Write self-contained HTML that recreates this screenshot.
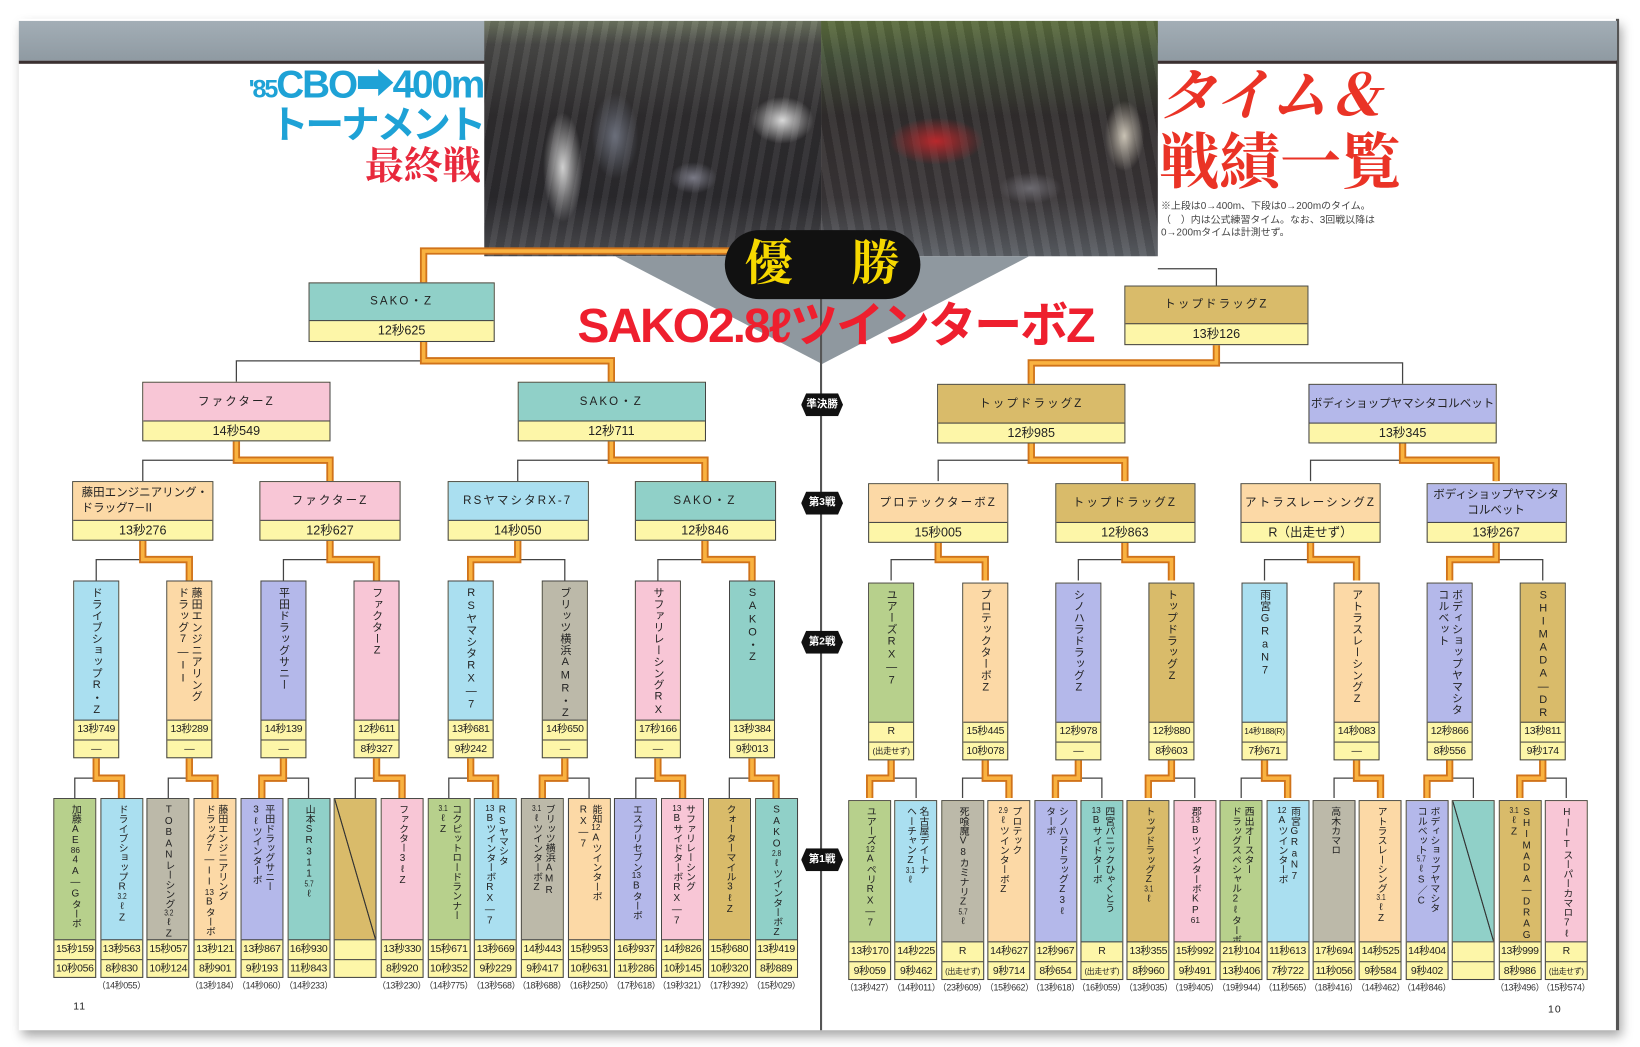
<!DOCTYPE html>
<html><head><meta charset="utf-8">
<style>
html,body{margin:0;padding:0;background:#fff;overflow:hidden;width:1640px;height:1047px}
#s{position:relative;width:1568px;height:1001px;transform:scale(1.04592);transform-origin:0 0;font-family:"Liberation Sans","Noto Sans CJK JP",sans-serif;color:#222}
.pg{position:absolute;left:18px;top:18px;width:1530px;height:967px;background:#fff;box-shadow:3px 6px 10px rgba(0,0,0,.35);border-right:3px solid #555;box-sizing:border-box}
.bar{position:absolute;left:18px;top:20px;width:1528px;height:38px;background:linear-gradient(#a3aeb6,#8f9aa2);border-bottom:3px solid #3a3030}
.photo{position:absolute;left:463px;top:20px;width:322px;height:225px;background:
radial-gradient(ellipse 25px 70px at 75px 140px,#cfcfcf 0,transparent 75%),
radial-gradient(ellipse 30px 55px at 125px 110px,#6a6e7a 0,transparent 75%),
radial-gradient(ellipse 40px 30px at 285px 95px,#d8d8d8 0,transparent 75%),
radial-gradient(ellipse 30px 20px at 200px 150px,#7a7a86 0,transparent 75%),
repeating-linear-gradient(100deg,rgba(255,255,255,.05) 0 6px,rgba(0,0,0,.08) 6px 14px),
linear-gradient(#6f7762 0,#4a4a48 10%,#302e30 40%,#2b2a2e 75%,#4e4e52 100%)}
.ph2{position:absolute;left:785px;top:20px;width:322px;height:225px;background:
radial-gradient(ellipse 60px 30px at 110px 115px,#b8282c 0,transparent 75%),
radial-gradient(ellipse 25px 45px at 290px 110px,#c9c2b4 0,transparent 75%),
radial-gradient(ellipse 40px 20px at 200px 160px,#6c6a70 0,transparent 75%),
repeating-linear-gradient(80deg,rgba(255,255,255,.05) 0 7px,rgba(0,0,0,.08) 7px 15px),
linear-gradient(#5d6e3e 0,#45523a 15%,#322e2e 40%,#3a3638 75%,#5c6066 100%)}
.spine{position:absolute;left:784px;top:245px;width:2px;height:740px;background:#555}
.abs{position:absolute}
.box{position:absolute;border:1px solid #444;box-sizing:border-box;background:#fdf6a8}
.box .n{display:flex;align-items:center;justify-content:center;border-bottom:1px solid #444;font-size:11px;letter-spacing:2px;text-align:center;line-height:15px}
.box .t{text-align:center;font-size:12px;line-height:19px}
.v{position:absolute;border:1px solid #444;box-sizing:border-box;background:#fdf6a8}
.v .n{display:flex;justify-content:center;border-bottom:1px solid #444;box-sizing:border-box;padding-top:5px;overflow:hidden}
.v .n div{writing-mode:vertical-rl;text-orientation:upright;font-size:9.5px;line-height:12px;letter-spacing:-0.3px;white-space:nowrap}
.v .t{text-align:center;font-size:10px;line-height:18px;height:18px;letter-spacing:-.3px;white-space:nowrap;overflow:hidden}
.v .t+.t{border-top:1px solid #444}
.m .n div{font-size:10.5px;line-height:13px;letter-spacing:0.5px}
.nt{position:absolute;top:936px;font-size:8.5px;color:#333;width:60px;text-align:center;letter-spacing:-.3px}
.c{text-combine-upright:all;font-size:8px}
.g{background:#b7d08c}.cy{background:#aadff0}.gr{background:#bcb9a9}.pe{background:#fcd9a6}.pu{background:#b4b8ea}.te{background:#90d0c8}.go{background:#d9bb6a}.pk{background:#f8c6d6}
.rl{position:absolute;left:766px;width:40px;height:22px;background:#111;color:#fff;font-size:10px;font-weight:bold;text-align:center;line-height:22px;clip-path:polygon(12% 0,88% 0,100% 50%,88% 100%,12% 100%,0 50%)}
svg{position:absolute;left:0;top:0}
</style></head><body><div id="s">
<div class="pg"></div>
<div class="bar"></div>
<div class="photo"></div>
<div class="ph2"></div>
<svg width="1568" height="1001"><polygon points="588,245 984,245 786,348" fill="#8f989f"/></svg>
<div class="spine"></div>

<div class="abs" style="left:230px;top:62px;width:232px;text-align:right;color:#1ea2d6;font-weight:bold;font-size:37px;line-height:38px;white-space:nowrap;letter-spacing:-2px"><span style="font-size:24px">'85</span>CBO➡400m</div>
<div class="abs" style="left:230px;top:100px;width:232px;text-align:right;color:#1ea2d6;font-weight:bold;font-size:37px;line-height:40px;white-space:nowrap;letter-spacing:-3px">トーナメント</div>
<div class="abs" style="left:300px;top:140px;width:160px;text-align:right;color:#e8293c;font-size:37px;line-height:40px;font-family:'Liberation Serif','Noto Serif CJK SC',serif;font-weight:bold">最終戦</div>

<div class="abs" style="left:1108px;top:62px;color:#ea3326;font-size:54px;line-height:60px;font-family:'Liberation Serif','Noto Serif CJK SC',serif;font-weight:bold;font-style:italic;white-space:nowrap">タイム＆</div>
<div class="abs" style="left:1108px;top:124px;color:#ea3326;font-size:58px;line-height:64px;font-family:'Liberation Serif','Noto Serif CJK SC',serif;font-weight:bold;white-space:nowrap">戦績一覧</div>
<div class="abs" style="left:1110px;top:192px;color:#444;font-size:9.5px;line-height:12.5px;white-space:nowrap">※上段は0→400m、下段は0→200mのタイム。<br>（　）内は公式練習タイム。なお、3回戦以降は<br>0→200mタイムは計測せず。</div>

<svg width="1568" height="1001">
<g fill="none" stroke="#444" stroke-width="1.2">
<path d="M71.5 763V744H116.2V763M92 725V744M160.9 763V744H205.6V763M181 725V744M250.3 763V744H295V763M271 725V744M339.7 763V744H384.4V763M360 725V744M429.1 763V744H473.8V763M450 725V744M518.5 763V744H563.2V763M540 725V744M607.9 763V744H652.6V763M629 725V744M697.3 763V744H742V763M719 725V744"/>
<path d="M831.5 763V744H875.9V763M852 725V744M920.3 763V744H964.7V763M942 725V744M1009.1 763V744H1053.5V763M1031 725V744M1097.9 763V744H1142.3V763M1120 725V744M1186.7 763V744H1231.1V763M1209 725V744M1275.5 763V744H1319.9V763M1297 725V744M1364.3 763V744H1408.7V763M1386 725V744M1453.1 763V744H1497.5V763M1475 725V744"/>
<path d="M92 555V535H181V555M271 555V535H360V555M450 555V535H540V555M629 555V535H719V555M852 555V535H942V555M1031 555V535H1120V555M1209 555V535H1297V555M1386 555V535H1475V555"/>
<path d="M136.5 460V440H315.5V460M495 460V440H674V460M897 460V440H1075.5V460M1253 460V440H1430.5V460"/>
<path d="M226 365V345H584.5V365M986 367V347H1341V367M1163 273V257H1107"/>
</g>
<g fill="none">
<path stroke="#d0731a" stroke-width="7" d="M92 725V744H116.2V763M181 725V744H205.6V763M271 725V744H250.3V763M360 725V744H384.4V763M450 725V744H473.8V763M540 725V744H518.5V763M629 725V744H652.6V763M719 725V744H742V763M852 725V744H831.5V763M942 725V744H964.7V763M1031 725V744H1009.1V763M1120 725V744H1097.9V763M1209 725V744H1231.1V763M1297 725V744H1319.9V763M1386 725V744H1364.3V763M1475 725V744H1453.1V763M136.5 517V535H181V555M315.5 517V535H360V555M495 517V535H450V555M674 517V535H719V555M897 517V535H942V555M1075.5 517V535H1120V555M1253 517V535H1297V555M1430.5 517V535H1386V555M226 422V440H315.5V460M584.5 422V440H674V460M986 422V440H1075.5V460M1341 422V440H1430.5V460M405 327V345H584.5V365M986 367V347H1163V330M405 270V240H700"/>
<path stroke="#f9b240" stroke-width="3.5" d="M92 725V744H116.2V763M181 725V744H205.6V763M271 725V744H250.3V763M360 725V744H384.4V763M450 725V744H473.8V763M540 725V744H518.5V763M629 725V744H652.6V763M719 725V744H742V763M852 725V744H831.5V763M942 725V744H964.7V763M1031 725V744H1009.1V763M1120 725V744H1097.9V763M1209 725V744H1231.1V763M1297 725V744H1319.9V763M1386 725V744H1364.3V763M1475 725V744H1453.1V763M136.5 517V535H181V555M315.5 517V535H360V555M495 517V535H450V555M674 517V535H719V555M897 517V535H942V555M1075.5 517V535H1120V555M1253 517V535H1297V555M1430.5 517V535H1386V555M226 422V440H315.5V460M584.5 422V440H674V460M986 422V440H1075.5V460M1341 422V440H1430.5V460M405 327V345H584.5V365M986 367V347H1163V330M405 270V240H700"/>
</g>
</svg>

<div class="abs" style="left:693px;top:220px;width:187px;height:66px;background:#111;border-radius:33px"></div>
<div class="abs" style="left:712px;top:224px;color:#f6d800;font-size:46px;line-height:56px;font-family:'Liberation Serif','Noto Serif CJK SC',serif;font-weight:bold">優</div>
<div class="abs" style="left:814px;top:224px;color:#f6d800;font-size:46px;line-height:56px;font-family:'Liberation Serif','Noto Serif CJK SC',serif;font-weight:bold">勝</div>
<div class="abs" style="left:552px;top:284px;width:495px;color:#ee1f2e;font-size:46px;line-height:54px;font-weight:bold;white-space:nowrap;letter-spacing:-2px">SAKO2.8ℓツインターボZ</div>

<div class="box" style="left:295px;top:270px;width:178px;height:57px"><div class="n te" style="height:35px">SAKO・Z</div><div class="t">12秒625</div></div>
<div class="box" style="left:1075px;top:273px;width:176px;height:57px"><div class="n go" style="height:35px">トップドラッグZ</div><div class="t">13秒126</div></div>
<div class="box" style="left:136px;top:365px;width:180px;height:57px"><div class="n pk" style="height:36px">ファクターZ</div><div class="t">14秒549</div></div>
<div class="box" style="left:494.5px;top:365px;width:180px;height:57px"><div class="n te" style="height:36px">SAKO・Z</div><div class="t">12秒711</div></div>
<div class="box" style="left:896px;top:367px;width:180px;height:57px"><div class="n go" style="height:36px">トップドラッグZ</div><div class="t">12秒985</div></div>
<div class="box" style="left:1251px;top:367px;width:180px;height:57px"><div class="n pu" style="height:36px;letter-spacing:0">ボディショップヤマシタコルベット</div><div class="t">13秒345</div></div>
<div class="box" style="left:69px;top:460px;width:135px;height:57px"><div class="n pe" style="height:36px;letter-spacing:0;text-align:left;justify-content:flex-start;padding-left:8px">藤田エンジニアリング・<br>ドラッグ7－II</div><div class="t">13秒276</div></div>
<div class="box" style="left:248px;top:460px;width:135px;height:57px"><div class="n pk" style="height:36px">ファクターZ</div><div class="t">12秒627</div></div>
<div class="box" style="left:427.5px;top:460px;width:135px;height:57px"><div class="n cy" style="height:36px">RSヤマシタRX-7</div><div class="t">14秒050</div></div>
<div class="box" style="left:606.5px;top:460px;width:135px;height:57px"><div class="n te" style="height:36px">SAKO・Z</div><div class="t">12秒846</div></div>
<div class="box" style="left:830px;top:462px;width:134px;height:57px"><div class="n pe" style="height:36px">プロテックターボZ</div><div class="t">15秒005</div></div>
<div class="box" style="left:1008.5px;top:462px;width:134px;height:57px"><div class="n go" style="height:36px">トップドラッグZ</div><div class="t">12秒863</div></div>
<div class="box" style="left:1186px;top:462px;width:134px;height:57px"><div class="n pe" style="height:36px">アトラスレーシングZ</div><div class="t">R（出走せず）</div></div>
<div class="box" style="left:1363.5px;top:462px;width:134px;height:57px"><div class="n pu" style="height:36px;letter-spacing:0">ボディショップヤマシタ<br>コルベット</div><div class="t">13秒267</div></div>

<div class="rl" style="top:376px">準決勝</div>
<div class="rl" style="top:470px">第3戦</div>
<div class="rl" style="top:603px">第2戦</div>
<div class="rl" style="top:811px">第1戦</div>

<div class="v m" style="left:70px;top:555px;width:44px;height:170px"><div class="n cy" style="height:133px"><div>ドライブショップR・Z</div></div><div class="t">13秒749</div><div class="t">—</div></div>
<div class="v m" style="left:159px;top:555px;width:44px;height:170px"><div class="n pe" style="height:133px"><div>藤田エンジニアリング<br>ドラッグ7—II</div></div><div class="t">13秒289</div><div class="t">—</div></div>
<div class="v m" style="left:249px;top:555px;width:44px;height:170px"><div class="n pu" style="height:133px"><div>平田ドラッグサニー</div></div><div class="t">14秒139</div><div class="t">—</div></div>
<div class="v m" style="left:338px;top:555px;width:44px;height:170px"><div class="n pk" style="height:133px"><div>ファクターZ</div></div><div class="t">12秒611</div><div class="t">8秒327</div></div>
<div class="v m" style="left:428px;top:555px;width:44px;height:170px"><div class="n cy" style="height:133px"><div>RSヤマシタRX—7</div></div><div class="t">13秒681</div><div class="t">9秒242</div></div>
<div class="v m" style="left:518px;top:555px;width:44px;height:170px"><div class="n gr" style="height:133px"><div>ブリッツ横浜AMR・Z</div></div><div class="t">14秒650</div><div class="t">—</div></div>
<div class="v m" style="left:607px;top:555px;width:44px;height:170px"><div class="n pk" style="height:133px"><div>サファリレーシングRX—7</div></div><div class="t">17秒166</div><div class="t">—</div></div>
<div class="v m" style="left:697px;top:555px;width:44px;height:170px"><div class="n te" style="height:133px"><div>SAKO・Z</div></div><div class="t">13秒384</div><div class="t">9秒013</div></div>

<div class="v m" style="left:830px;top:557px;width:44px;height:170px"><div class="n g" style="height:133px"><div>ユアーズRX—7</div></div><div class="t">R</div><div class="t" style="font-size:8px">(出走せず)</div></div>
<div class="v m" style="left:920px;top:557px;width:44px;height:170px"><div class="n pe" style="height:133px"><div>プロテックターボZ</div></div><div class="t">15秒445</div><div class="t">10秒078</div></div>
<div class="v m" style="left:1009px;top:557px;width:44px;height:170px"><div class="n pu" style="height:133px"><div>シノハラドラッグZ</div></div><div class="t">12秒978</div><div class="t">—</div></div>
<div class="v m" style="left:1098px;top:557px;width:44px;height:170px"><div class="n go" style="height:133px"><div>トップドラッグZ</div></div><div class="t">12秒880</div><div class="t">8秒603</div></div>
<div class="v m" style="left:1187px;top:557px;width:44px;height:170px"><div class="n cy" style="height:133px"><div>雨宮GRaN7</div></div><div class="t" style="font-size:8px">14秒188(R)</div><div class="t">7秒671</div></div>
<div class="v m" style="left:1275px;top:557px;width:44px;height:170px"><div class="n pe" style="height:133px"><div>アトラスレーシングZ</div></div><div class="t">14秒083</div><div class="t">—</div></div>
<div class="v m" style="left:1364px;top:557px;width:44px;height:170px"><div class="n pu" style="height:133px"><div>ボディショップヤマシタ<br>コルベット</div></div><div class="t">12秒866</div><div class="t">8秒556</div></div>
<div class="v m" style="left:1453px;top:557px;width:44px;height:170px"><div class="n go" style="height:133px"><div>SHIMADA—DRAG・Z</div></div><div class="t">13秒811</div><div class="t">9秒174</div></div>

<div class="v" style="left:51px;top:763px;width:41px;height:172px"><div class="n g" style="height:135px"><div>加藤AE<span class="c">86</span>4A—Gターボ</div></div><div class="t">15秒159</div><div class="t">10秒056</div></div>
<div class="v" style="left:95.7px;top:763px;width:41px;height:172px"><div class="n cy" style="height:135px"><div>ドライブショップR<span class="c">3.2</span>ℓZ</div></div><div class="t">13秒563</div><div class="t">8秒830</div></div>
<div class="v" style="left:140.4px;top:763px;width:41px;height:172px"><div class="n gr" style="height:135px"><div>TOBANレーシング<span class="c">3.2</span>ℓZ</div></div><div class="t">15秒057</div><div class="t">10秒124</div></div>
<div class="v" style="left:185.1px;top:763px;width:41px;height:172px"><div class="n pe" style="height:135px"><div>藤田エンジニアリング<br>ドラッグ7—II<span class="c">13</span>Bターボ</div></div><div class="t">13秒121</div><div class="t">8秒901</div></div>
<div class="v" style="left:229.8px;top:763px;width:41px;height:172px"><div class="n pu" style="height:135px"><div>平田ドラッグサニー<br>3ℓツインターボ</div></div><div class="t">13秒867</div><div class="t">9秒193</div></div>
<div class="v" style="left:274.5px;top:763px;width:41px;height:172px"><div class="n te" style="height:135px"><div>山本SR311<span class="c">5.7</span>ℓ</div></div><div class="t">16秒930</div><div class="t">11秒843</div></div>
<div class="v" style="left:319.2px;top:763px;width:41px;height:172px"><div class="n go" style="height:135px;background:linear-gradient(to top right,#d9bb6a 49%,#333 49.5%,#333 50.5%,#d9bb6a 51%)"></div><div class="t"></div><div class="t"></div></div>
<div class="v" style="left:363.9px;top:763px;width:41px;height:172px"><div class="n pk" style="height:135px"><div>ファクター3ℓZ</div></div><div class="t">13秒330</div><div class="t">8秒920</div></div>
<div class="v" style="left:408.6px;top:763px;width:41px;height:172px"><div class="n g" style="height:135px"><div>コクピットロードランナー<br><span class="c">3.1</span>ℓZ</div></div><div class="t">15秒671</div><div class="t">10秒352</div></div>
<div class="v" style="left:453.3px;top:763px;width:41px;height:172px"><div class="n cy" style="height:135px"><div>RSヤマシタ<br><span class="c">13</span>BツインターボRX—7</div></div><div class="t">13秒669</div><div class="t">9秒229</div></div>
<div class="v" style="left:498px;top:763px;width:41px;height:172px"><div class="n gr" style="height:135px"><div>ブリッツ横浜AMR<br><span class="c">3.1</span>ℓツインターボZ</div></div><div class="t">14秒443</div><div class="t">9秒417</div></div>
<div class="v" style="left:542.7px;top:763px;width:41px;height:172px"><div class="n pe" style="height:135px"><div>能知<span class="c">12</span>Aツインターボ<br>RX—7</div></div><div class="t">15秒953</div><div class="t">10秒631</div></div>
<div class="v" style="left:587.4px;top:763px;width:41px;height:172px"><div class="n pu" style="height:135px"><div>エスプリセブン<span class="c">13</span>Bターボ</div></div><div class="t">16秒937</div><div class="t">11秒286</div></div>
<div class="v" style="left:632.1px;top:763px;width:41px;height:172px"><div class="n pk" style="height:135px"><div>サファリレーシング<br><span class="c">13</span>BサイドターボRX—7</div></div><div class="t">14秒826</div><div class="t">10秒145</div></div>
<div class="v" style="left:676.8px;top:763px;width:41px;height:172px"><div class="n go" style="height:135px"><div>クォーターマイル3ℓZ</div></div><div class="t">15秒680</div><div class="t">10秒320</div></div>
<div class="v" style="left:721.5px;top:763px;width:41px;height:172px"><div class="n te" style="height:135px"><div>SAKO<span class="c">2.8</span>ℓツインターボZ</div></div><div class="t">13秒419</div><div class="t">8秒889</div></div>

<div class="v" style="left:811px;top:765px;width:41px;height:172px"><div class="n g" style="height:135px"><div>ユアーズ<span class="c">12</span>AペリRX—7</div></div><div class="t">13秒170</div><div class="t">9秒059</div></div>
<div class="v" style="left:855.4px;top:765px;width:41px;height:172px"><div class="n cy" style="height:135px"><div>名古屋デイトナ<br>ヘーチャンZ<span class="c">3.1</span>ℓ</div></div><div class="t">14秒225</div><div class="t">9秒462</div></div>
<div class="v" style="left:899.8px;top:765px;width:41px;height:172px"><div class="n gr" style="height:135px"><div>死喰魔V8カミナリZ<span class="c">5.7</span>ℓ</div></div><div class="t">R</div><div class="t" style="font-size:7.5px">(出走せず)</div></div>
<div class="v" style="left:944.2px;top:765px;width:41px;height:172px"><div class="n pe" style="height:135px"><div>プロテック<br><span class="c">2.9</span>ℓツインターボZ</div></div><div class="t">14秒627</div><div class="t">9秒714</div></div>
<div class="v" style="left:988.6px;top:765px;width:41px;height:172px"><div class="n pu" style="height:135px"><div>シノハラドラッグZ3ℓ<br>ターボ</div></div><div class="t">12秒967</div><div class="t">8秒654</div></div>
<div class="v" style="left:1033px;top:765px;width:41px;height:172px"><div class="n te" style="height:135px"><div>四宮パニックひゃくとう<br><span class="c">13</span>Bサイドターボ</div></div><div class="t">R</div><div class="t" style="font-size:7.5px">(出走せず)</div></div>
<div class="v" style="left:1077.4px;top:765px;width:41px;height:172px"><div class="n go" style="height:135px"><div>トップドラッグZ<span class="c">3.1</span>ℓ</div></div><div class="t">13秒355</div><div class="t">8秒960</div></div>
<div class="v" style="left:1121.8px;top:765px;width:41px;height:172px"><div class="n pk" style="height:135px"><div>郡<span class="c">13</span>BツインターボKP<span class="c">61</span></div></div><div class="t">15秒992</div><div class="t">9秒491</div></div>
<div class="v" style="left:1166.2px;top:765px;width:41px;height:172px"><div class="n g" style="height:135px"><div>西出オースター<br>ドラッグスペシャル2ℓターボ</div></div><div class="t">21秒104</div><div class="t">13秒406</div></div>
<div class="v" style="left:1210.6px;top:765px;width:41px;height:172px"><div class="n cy" style="height:135px"><div>雨宮GRaN7<br><span class="c">12</span>Aツインターボ</div></div><div class="t">11秒613</div><div class="t">7秒722</div></div>
<div class="v" style="left:1255px;top:765px;width:41px;height:172px"><div class="n gr" style="height:135px"><div>高木カマロ</div></div><div class="t">17秒694</div><div class="t">11秒056</div></div>
<div class="v" style="left:1299.4px;top:765px;width:41px;height:172px"><div class="n pe" style="height:135px"><div>アトラスレーシング<span class="c">3.1</span>ℓZ</div></div><div class="t">14秒525</div><div class="t">9秒584</div></div>
<div class="v" style="left:1343.8px;top:765px;width:41px;height:172px"><div class="n pu" style="height:135px"><div>ボディショップヤマシタ<br>コルベット<span class="c">5.7</span>ℓS／C</div></div><div class="t">14秒404</div><div class="t">9秒402</div></div>
<div class="v" style="left:1388.2px;top:765px;width:41px;height:172px"><div class="n te" style="height:135px;background:linear-gradient(to top right,#90d0c8 49%,#333 49.5%,#333 50.5%,#90d0c8 51%)"></div><div class="t"></div><div class="t"></div></div>
<div class="v" style="left:1432.6px;top:765px;width:41px;height:172px"><div class="n go" style="height:135px"><div>SHIMADA—DRAG<br><span class="c">3.1</span>ℓZ</div></div><div class="t">13秒999</div><div class="t">8秒986</div></div>
<div class="v" style="left:1477px;top:765px;width:41px;height:172px"><div class="n pk" style="height:135px"><div>HーITスーパーカマロ7ℓ</div></div><div class="t">R</div><div class="t" style="font-size:7.5px">(出走せず)</div></div>

<div class="nt" style="left:86px">（14秒055）</div>
<div class="nt" style="left:175px">（13秒184）</div>
<div class="nt" style="left:220px">（14秒060）</div>
<div class="nt" style="left:265px">（14秒233）</div>
<div class="nt" style="left:354px">（13秒230）</div>
<div class="nt" style="left:399px">（14秒775）</div>
<div class="nt" style="left:444px">（13秒568）</div>
<div class="nt" style="left:488px">（18秒688）</div>
<div class="nt" style="left:533px">（16秒250）</div>
<div class="nt" style="left:578px">（17秒618）</div>
<div class="nt" style="left:622px">（19秒321）</div>
<div class="nt" style="left:667px">（17秒392）</div>
<div class="nt" style="left:712px">（15秒029）</div>
<div class="nt" style="left:801px;top:938px">（13秒427）</div>
<div class="nt" style="left:846px;top:938px">（14秒011）</div>
<div class="nt" style="left:890px;top:938px">（23秒609）</div>
<div class="nt" style="left:935px;top:938px">（15秒662）</div>
<div class="nt" style="left:979px;top:938px">（13秒618）</div>
<div class="nt" style="left:1023px;top:938px">（16秒059）</div>
<div class="nt" style="left:1068px;top:938px">（13秒035）</div>
<div class="nt" style="left:1112px;top:938px">（19秒405）</div>
<div class="nt" style="left:1157px;top:938px">（19秒944）</div>
<div class="nt" style="left:1201px;top:938px">（11秒565）</div>
<div class="nt" style="left:1245px;top:938px">（18秒416）</div>
<div class="nt" style="left:1290px;top:938px">（14秒462）</div>
<div class="nt" style="left:1334px;top:938px">（14秒846）</div>
<div class="nt" style="left:1423px;top:938px">（13秒496）</div>
<div class="nt" style="left:1467px;top:938px">（15秒574）</div>

<div class="abs" style="left:70px;top:957px;font-size:10px;letter-spacing:1px">11</div>
<div class="abs" style="left:1480px;top:960px;font-size:10px;letter-spacing:1px">10</div>
</div></body></html>
